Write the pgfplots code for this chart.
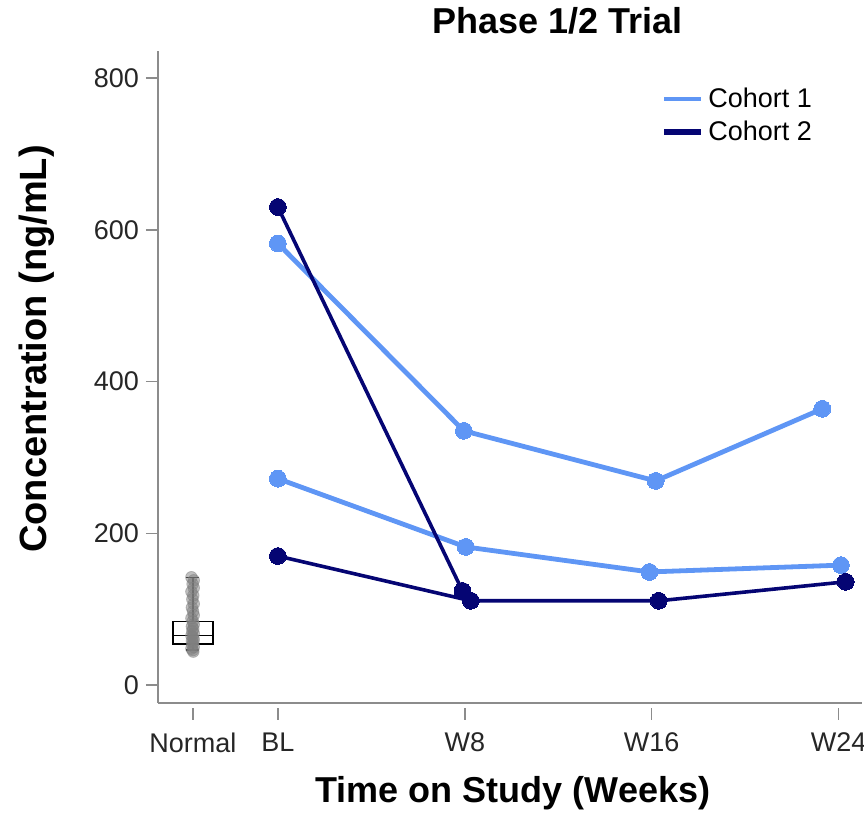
\documentclass[border=0pt]{standalone}
\usepackage{pgfplots}
\pgfplotsset{compat=1.18}
\usepgfplotslibrary{statistics}
\usepackage{fontspec}
\setmainfont{Liberation Sans}
\definecolor{cohA}{RGB}{95,150,245}
\definecolor{cohB}{RGB}{5,5,115}
\definecolor{axgray}{RGB}{140,140,140}
\begin{document}
\begin{tikzpicture}
\path[use as bounding box] (-79pt,-56pt) rectangle (353pt,351.5pt);
\begin{axis}[
  scale only axis,
  width=352pt, height=326pt,
  xmin=-5.13, xmax=25, ymin=-23.7, ymax=835.6,
  axis x line*=bottom, axis y line*=left,
  axis line style={axgray, line width=0.75pt, -},
  xtick={-3.64,0,8,16,24},
  xticklabels={Normal,BL,W8,W16,W24},
  ytick={0,200,400,600,800},
  tick align=outside,
  major tick length=6pt,
  tick style={axgray, line width=0.75pt},
  xtick style={yshift=-2.5pt},
  /pgf/number format/assume math mode=true,
  ticklabel style={font=\fontsize{13.5}{15}\selectfont, text=black!85},
  xticklabel style={yshift=-5.5pt},
  title={\textbf{Phase 1/2 Trial}},
  title style={font=\fontsize{18}{20}\selectfont, at={(axis description cs:0.568,1.008)}, anchor=base},
  xlabel={\textbf{Time on Study (Weeks)}},
  xlabel style={font=\fontsize{18}{21}\selectfont, at={(axis description cs:0.504,-0.153)}, anchor=base},
  ylabel={\textbf{Concentration (ng/mL)}},
  ylabel style={font=\fontsize{19}{22}\selectfont, at={(axis description cs:-0.159,0.543)}, anchor=base},
  legend style={draw=none, fill=none, at={(axis description cs:0.706,0.956)}, anchor=north west,
    font=\fontsize{13.5}{15}\selectfont, row sep=1pt},
  legend cell align=left,
  legend image code/.code={\draw[#1] (0pt,0pt) -- (18.5pt,0pt);},
  clip=false,
]
% legend entries
\addlegendimage{cohA, line width=2pt}
\addlegendentry{Cohort 1}
\addlegendimage{cohB, line width=3pt}
\addlegendentry{Cohort 2}

% normal range jittered points
\addplot[only marks, mark=*, mark size=2.9pt, mark options={draw=gray, fill=gray, opacity=0.5}, forget plot] coordinates {
(-3.70,142) (-3.60,138) (-3.65,133) (-3.60,128) (-3.70,123) (-3.62,118) (-3.66,113)
(-3.60,107) (-3.68,102) (-3.63,97) (-3.60,92) (-3.70,88) (-3.64,84) (-3.60,80)
(-3.68,77) (-3.62,74) (-3.66,71) (-3.60,68) (-3.70,65) (-3.64,63) (-3.60,60)
(-3.68,58) (-3.62,56) (-3.66,53) (-3.60,50) (-3.70,48) (-3.64,46) (-3.62,44)
};
% box plot of normal range
\addplot[forget plot, draw=black, line width=0.75pt, fill=white, fill opacity=0.6,
  boxplot/draw direction=y,
  boxplot prepared={draw position=-3.64, lower whisker=46, lower quartile=54,
    median=65, upper quartile=84, upper whisker=142, box extend=1.71, whisker extend=0.56}]
  coordinates {};

% Cohort 1
\addplot[cohA, line width=2.4pt, mark=*, mark size=4.2pt, mark options={fill=cohA, draw=cohA, line width=0pt}, forget plot]
  coordinates {(0,582) (7.96,335) (16.17,269) (23.3,364)};
\addplot[cohA, line width=2.4pt, mark=*, mark size=4.2pt, mark options={fill=cohA, draw=cohA, line width=0pt}, forget plot]
  coordinates {(0,272) (8.04,182) (15.9,149) (24.1,158)};
% Cohort 2
\addplot[cohB, line width=1.8pt, mark=*, mark size=4.2pt, mark options={fill=cohB, draw=cohB, line width=0pt}, forget plot]
  coordinates {(0,630) (7.9,124)};
\addplot[cohB, line width=1.8pt, mark=*, mark size=4.2pt, mark options={fill=cohB, draw=cohB, line width=0pt}, forget plot]
  coordinates {(0,170) (8.26,111) (16.3,111) (24.3,136)};
\end{axis}
\end{tikzpicture}
\end{document}
